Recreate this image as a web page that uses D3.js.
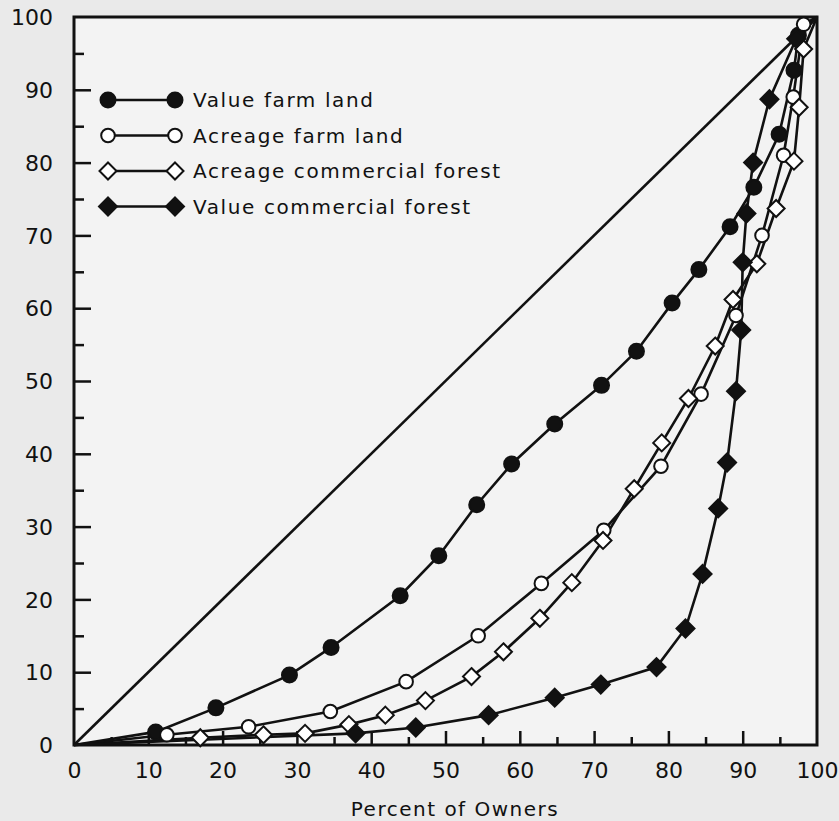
<html>
<head>
<script src="https://d3js.org/d3.v7.min.js"></script>
<style>
body { margin: 0; background: #eaeaea; }
svg text { font-family: "DejaVu Sans", sans-serif; fill: #111; }
.frame { fill: #f3f3f3; stroke: #111; stroke-width: 3px; }
.diag { stroke: #111; stroke-width: 2.6px; fill: none; }
.series { stroke: #111; stroke-width: 2.6px; fill: none; }
.axis path { display: none; }
.axis line { stroke: #111; stroke-width: 2.5px; }
</style>
</head>
<body>
<script>

var width = 839, height = 821;

// Lorenz curves: percent of owners (x) vs cumulative percent (y)
var valueFarmX   = [0, 11, 19.1, 29, 34.6, 43.9, 49.1, 54.2, 58.9, 64.7, 71, 75.7, 80.5, 84.1, 88.3, 91.5, 94.9, 96.9, 97.5, 100];
var valueFarmY   = [0, 1.8, 5.1, 9.6, 13.4, 20.5, 26, 33, 38.6, 44.1, 49.4, 54.1, 60.7, 65.3, 71.2, 76.6, 83.9, 92.7, 97.5, 100];

var acreFarmX    = [0, 12.5, 23.5, 34.5, 44.7, 54.4, 62.9, 71.3, 79, 84.4, 89.1, 92.6, 95.5, 96.8, 98.2, 100];
var acreFarmY    = [0, 1.4, 2.5, 4.6, 8.7, 15, 22.2, 29.5, 38.3, 48.2, 59, 70, 81, 89, 99, 100];

var acreForestX  = [0, 17, 25.5, 31.1, 37, 41.9, 47.3, 53.5, 57.8, 62.7, 67, 71.2, 75.4, 79.1, 82.7, 86.3, 88.7, 91.9, 94.5, 96.9, 97.6, 98.2, 100];
var acreForestY  = [0, 1.0, 1.4, 1.6, 2.8, 4.1, 6.1, 9.4, 12.8, 17.4, 22.3, 28.1, 35.2, 41.5, 47.6, 54.8, 61.2, 66.1, 73.7, 80.2, 87.6, 95.6, 100];

var valueForestX = [0, 37.9, 46, 55.8, 64.7, 70.9, 78.4, 82.3, 84.6, 86.7, 87.9, 89.1, 89.8, 90.0, 90.5, 91.4, 93.6, 97.2, 100];
var valueForestY = [0, 1.6, 2.4, 4.1, 6.5, 8.3, 10.7, 16, 23.5, 32.5, 38.8, 48.6, 57, 66.3, 73, 80, 88.7, 97, 100];

var legendLabels = ["Value farm land", "Acreage farm land", "Acreage commercial forest", "Value commercial forest"];
var majorTicks = d3.range(0, 101, 10);
var minorTicks = d3.range(5, 100, 10);

var x = d3.scaleLinear().domain([0, 100]).range([74, 817]);
var y = d3.scaleLinear().domain([0, 100]).range([745, 17]);

var svg = d3.select("body").append("svg")
	.attr("width", width)
	.attr("height", height)

svg.append("rect")
	.attr("x", x(0)).attr("y", y(100))
	.attr("width", x(100) - x(0)).attr("height", y(0) - y(100))
	.attr("class", "frame")

// axes, ticks pointing into the plot
var xMajor = svg.append("g").attr("class", "axis").attr("transform", "translate(0," + y(0) + ")")
	.call(d3.axisBottom(x).tickValues(majorTicks).tickSizeInner(-14).tickSizeOuter(0).tickPadding(33).tickFormat(d3.format("d")))
var xMinor = svg.append("g").attr("class", "axis").attr("transform", "translate(0," + y(0) + ")")
	.call(d3.axisBottom(x).tickValues(minorTicks).tickSizeInner(-8).tickSizeOuter(0).tickFormat(""))
xMajor.selectAll(".tick").filter(function(d){ return d === 0 || d === 100; }).select("line").remove()

var yMajor = svg.append("g").attr("class", "axis").attr("transform", "translate(" + x(0) + ",0)")
	.call(d3.axisLeft(y).tickValues(majorTicks).tickSizeInner(-17).tickSizeOuter(0).tickPadding(21).tickFormat(d3.format("d")))
var yMinor = svg.append("g").attr("class", "axis").attr("transform", "translate(" + x(0) + ",0)")
	.call(d3.axisLeft(y).tickValues(minorTicks).tickSizeInner(-10).tickSizeOuter(0).tickFormat(""))
yMajor.selectAll(".tick").filter(function(d){ return d === 0 || d === 100; }).select("line").remove()

svg.selectAll(".axis text").style("font-size", "22px").style("font-family", "DejaVu Sans, sans-serif")
yMajor.selectAll("text").attr("dy", "0.35em")
xMajor.selectAll("text").attr("dy", "0")

svg.append("text")
	.attr("x", 455).attr("y", 816)
	.attr("text-anchor", "middle")
	.style("font-size", "20px")
	.style("letter-spacing", "1.5px")
	.text("Percent of Owners")

// line of equality
svg.append("line")
	.attr("x1", x(0)).attr("y1", y(0))
	.attr("x2", x(100)).attr("y2", y(100))
	.attr("class", "diag")

var line = d3.line()
	.x(function(d) { return x(d[0]); })
	.y(function(d) { return y(d[1]); })

var diamond = function(s) { return "M0," + (-s) + "L" + s + ",0L0," + s + "L" + (-s) + ",0Z"; }

var series = [
	{xs: valueFarmX, ys: valueFarmY, shape: "circle", fill: "#111"},
	{xs: acreFarmX, ys: acreFarmY, shape: "circle", fill: "#fff"},
	{xs: acreForestX, ys: acreForestY, shape: "diamond", fill: "#fff"},
	{xs: valueForestX, ys: valueForestY, shape: "diamond", fill: "#111"}
]

var drawMarker = function(g, s, cx, cy) {
	if (s.shape === "circle") {
		g.append("circle").attr("cx", cx).attr("cy", cy)
			.attr("r", s.fill === "#111" ? 7.5 : 6.8)
			.style("fill", s.fill).style("stroke", "#111").style("stroke-width", 2)
	} else {
		g.append("path").attr("d", diamond(s.fill === "#111" ? 9 : 8.5))
			.attr("transform", "translate(" + cx + "," + cy + ")")
			.style("fill", s.fill).style("stroke", "#111").style("stroke-width", 2)
	}
}

series.forEach(function(s) {
	var pts = s.xs.map(function(v, i) { return [v, s.ys[i]]; })
	svg.append("path").attr("d", line(pts)).attr("class", "series")
})
series.forEach(function(s) {
	var g = svg.append("g")
	s.xs.forEach(function(v, i) {
		if (i === 0 || i === s.xs.length - 1) return;
		drawMarker(g, s, x(v), y(s.ys[i]))
	})
})

// legend
var legend = svg.append("g")
legendLabels.forEach(function(lbl, i) {
	var ly = 100 + i * 35.5
	legend.append("line").attr("x1", 108).attr("x2", 175).attr("y1", ly).attr("y2", ly)
		.style("stroke", "#111").style("stroke-width", 2.6)
	drawMarker(legend, series[i], 108, ly)
	drawMarker(legend, series[i], 175, ly)
	legend.append("text").attr("x", 193).attr("y", ly).attr("dy", "0.36em")
		.style("font-size", "20px").style("letter-spacing", "1.6px")
		.text(lbl)
})

</script>
</body>
</html>
